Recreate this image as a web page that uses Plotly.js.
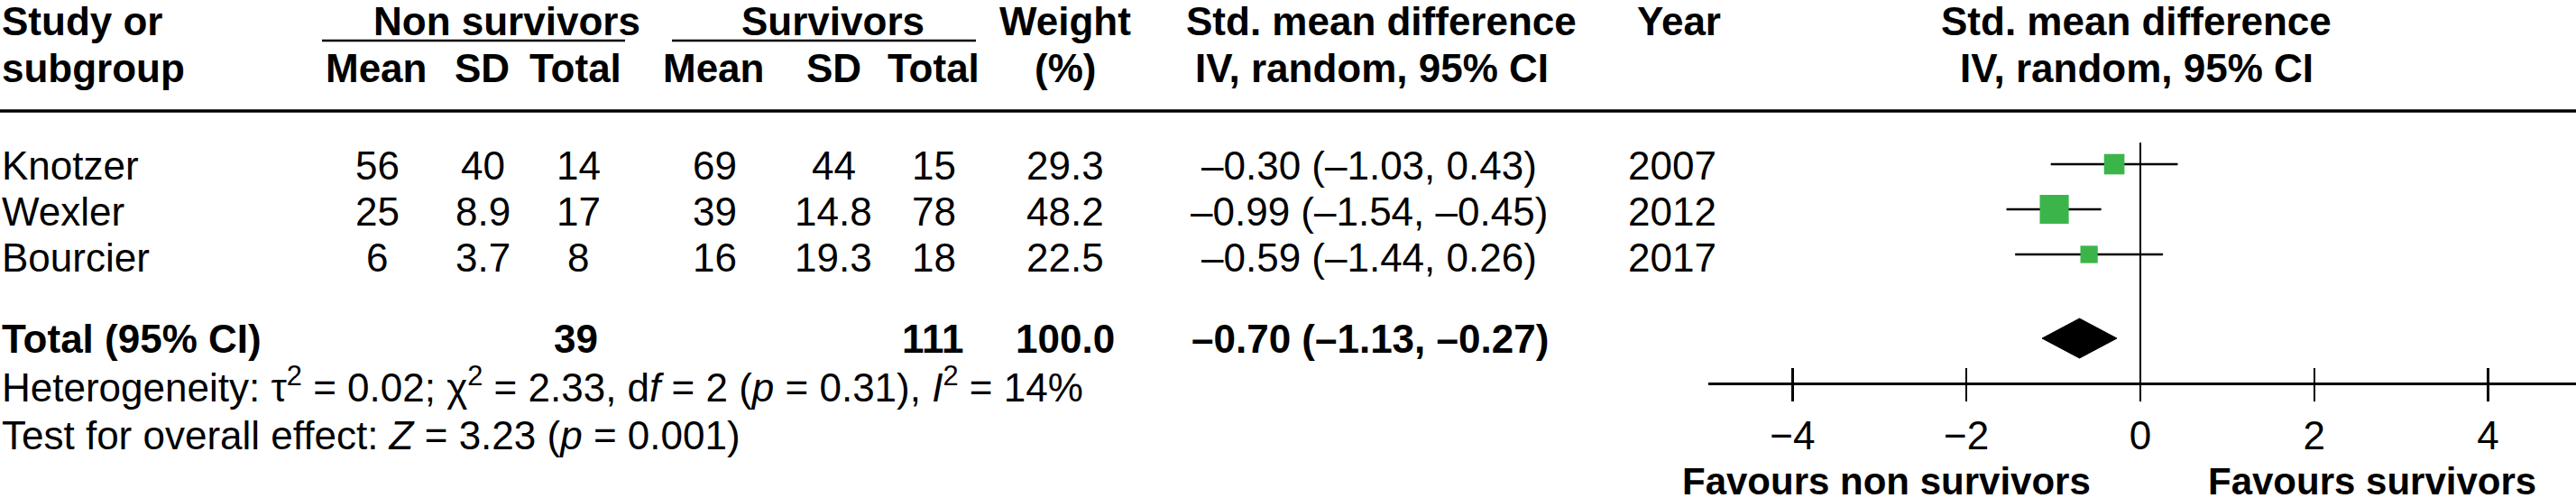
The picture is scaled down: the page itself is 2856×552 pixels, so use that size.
<!DOCTYPE html>
<html>
<head>
<meta charset="utf-8">
<script src="https://cdn.plot.ly/plotly-3.0.1.min.js"></script>
<style>html,body{margin:0;padding:0;background:#fff;}#chart{width:2856px;height:552px;}</style>
</head>
<body>
<div id="chart"></div>
<script>
// ---------------- data ----------------
const studies   = ['Knotzer', 'Wexler', 'Bourcier'];
const nsMean    = [56, 25, 6];
const nsSD      = [40, 8.9, 3.7];
const nsTotal   = [14, 17, 8];
const sMean     = [69, 39, 16];
const sSD       = [44, 14.8, 19.3];
const sTotal    = [15, 78, 18];
const weights   = [29.3, 48.2, 22.5];
const smd       = [-0.30, -0.99, -0.59];
const ciLow     = [-1.03, -1.54, -1.44];
const ciHigh    = [0.43, -0.45, 0.26];
const years     = [2007, 2012, 2017];
const totalNS   = 39;
const totalS    = 111;
const totalW    = 100.0;
const pooled    = [-0.70, -1.13, -0.27];   // estimate, low, high
const hetStats  = {tau2: '0.02', chi2: '2.33', df: '2', p: '0.31', I2: '14'};
const effStats  = {Z: '3.23', p: '0.001'};
const tickVals  = [-4, -2, 0, 2, 4];
const favours   = ['Favours non survivors', 'Favours survivors'];

// ---------------- layout constants ----------------
const W = 2856, H = 552;
const FONT = '"Liberation Sans", Arial, Helvetica, sans-serif';
const FS = 44, FS_FAV = 42;
const TEXT_ROW0 = 184, TEXT_PITCH = 50.5;  // text rows (pixels)
const ROW0 = 182, PITCH = 50;              // forest rows (pixels)
const TOTAL_PX = 375, HET_PX = 426, TEST_PX = 482;
const AXIS_PX = 424, PLOT_TOP_PX = 158;
const X_LEFT_PX = 1894, ZERO_PX = 2373, UNIT_PX = 96.4;
const GREEN = '#3bb54a';

const px = x => x / W;
const py = y => 1 - y / H;
const textRowPx = i => TEXT_ROW0 + TEXT_PITCH * i;
const pxToRow = p => (p - ROW0) / PITCH;
const dash = s => s.replace(/-/g, '\u2013');
const f2 = v => dash(v.toFixed(2));

const ann = [];
function txt(text, x, y, opt) {
  opt = opt || {};
  ann.push({
    text: text, xref: 'paper', yref: 'paper', x: px(x), y: py(y),
    xanchor: opt.anchor || 'center', yanchor: 'middle', showarrow: false,
    font: {family: FONT, size: opt.size || FS, color: '#000', weight: opt.bold ? 'bold' : 'normal'}
  });
}

// header
const H1 = 24, H2 = 75;
txt('Study or', 0, H1, {anchor: 'left', bold: true});
txt('subgroup', 0, H2, {anchor: 'left', bold: true});
txt('Non survivors', 562, H1, {bold: true});
txt('Survivors', 923, H1, {bold: true});
txt('Weight', 1181, H1, {bold: true});
txt('(%)', 1181, H2, {bold: true});
txt('Std. mean difference', 1531, H1, {bold: true});
txt('IV, random, 95% CI', 1521, H2, {bold: true});
txt('Year', 1861, H1, {bold: true});
txt('Std. mean difference', 2368, H1, {bold: true});
txt('IV, random, 95% CI', 2369, H2, {bold: true});
const subHead = [['Mean', 417], ['SD', 534], ['Total', 638], ['Mean', 791], ['SD', 924], ['Total', 1035]];
subHead.forEach(s => txt(s[0], s[1], H2, {bold: true}));

// study rows
const colX = {nsMean: 418, nsSD: 535, nsTotal: 641, sMean: 792, sSD: 924, sTotal: 1035, w: 1181, ci: 1518, year: 1854};
studies.forEach((name, i) => {
  const y = textRowPx(i);
  txt(name, 0, y, {anchor: 'left'});
  txt(String(nsMean[i]), colX.nsMean, y);
  txt(String(nsSD[i]), colX.nsSD, y);
  txt(String(nsTotal[i]), colX.nsTotal, y);
  txt(String(sMean[i]), colX.sMean, y);
  txt(String(sSD[i]), colX.sSD, y);
  txt(String(sTotal[i]), colX.sTotal, y);
  txt(weights[i].toFixed(1), colX.w, y);
  txt(f2(smd[i]) + ' (' + f2(ciLow[i]) + ', ' + f2(ciHigh[i]) + ')', colX.ci, y);
  txt(String(years[i]), colX.year, y);
});

// total row
txt('Total (95% CI)', 0, TOTAL_PX, {anchor: 'left', bold: true});
txt(String(totalNS), 638, TOTAL_PX, {bold: true});
txt(String(totalS), 1034, TOTAL_PX, {bold: true});
txt(totalW.toFixed(1), 1181, TOTAL_PX, {bold: true});
txt(f2(pooled[0]) + ' (' + f2(pooled[1]) + ', ' + f2(pooled[2]) + ')', 1519, TOTAL_PX, {bold: true});
txt('Heterogeneity: \u03c4<sup>2</sup> = ' + hetStats.tau2 + '; \u03c7<sup>2</sup> = ' + hetStats.chi2 +
    ', d<i>f</i> = ' + hetStats.df + ' (<i>p</i> = ' + hetStats.p + '), <i>I</i><sup>2</sup> = ' + hetStats.I2 + '%',
    0, HET_PX, {anchor: 'left'});
txt('Test for overall effect: <i>Z</i> = ' + effStats.Z + ' (<i>p</i> = ' + effStats.p + ')', 0, TEST_PX, {anchor: 'left'});

// favours labels
txt(favours[0], 2091, 533, {bold: true, size: FS_FAV});
txt(favours[1], 2630, 533, {bold: true, size: FS_FAV});

// header rules
const shapes = [
  {type: 'line', xref: 'paper', yref: 'paper', x0: px(357), x1: px(693), y0: py(45), y1: py(45), line: {color: '#000', width: 2.5}},
  {type: 'line', xref: 'paper', yref: 'paper', x0: px(745), x1: px(1082), y0: py(45), y1: py(45), line: {color: '#000', width: 2.5}},
  {type: 'line', xref: 'paper', yref: 'paper', x0: 0, x1: 1, y0: py(123), y1: py(123), line: {color: '#000', width: 3.5}}
];

// ---------------- traces ----------------
const ciX = [], ciY = [];
studies.forEach((s, i) => { ciX.push(ciLow[i], ciHigh[i], null); ciY.push(i, i, null); });
const ciTrace = {type: 'scatter', mode: 'lines', x: ciX, y: ciY, xaxis: 'x', yaxis: 'y',
  line: {color: '#000', width: 2.6}, hoverinfo: 'skip'};
const ptTrace = {type: 'scatter', mode: 'markers', x: smd, y: studies.map((s, i) => i), xaxis: 'x', yaxis: 'y',
  marker: {symbol: 'square', color: GREEN, opacity: 1, size: weights.map(w => 8 + 0.5 * w), line: {width: 0}},
  hoverinfo: 'skip'};
const T = pxToRow(TOTAL_PX), dh = 22 / PITCH;
const diamond = {type: 'scatter', mode: 'lines', xaxis: 'x2', yaxis: 'y',
  x: [pooled[1], pooled[0], pooled[2], pooled[0], pooled[1]],
  y: [T, T - dh, T, T + dh, T], fill: 'toself', fillcolor: '#000', line: {color: '#000', width: 1}, hoverinfo: 'skip'};

const xr = [(X_LEFT_PX - ZERO_PX) / UNIT_PX, (W - ZERO_PX) / UNIT_PX];
const layout = {
  width: W, height: H, margin: {l: 0, r: 0, t: 0, b: 0},
  paper_bgcolor: '#fff', plot_bgcolor: 'rgba(0,0,0,0)', showlegend: false,
  font: {family: FONT, size: FS, color: '#000'},
  xaxis: {domain: [px(X_LEFT_PX), 1], range: xr, anchor: 'y', showgrid: false,
    zeroline: true, zerolinecolor: '#000', zerolinewidth: 2.4,
    showline: true, linecolor: '#000', linewidth: 3,
    tickmode: 'array', tickvals: tickVals, ticks: 'outside', ticklen: 18, tickwidth: 2.4, tickcolor: '#000',
    ticklabelstandoff: 0, tickfont: {family: FONT, size: FS, color: '#000'}, fixedrange: true},
  xaxis2: {overlaying: 'x', anchor: 'y', side: 'bottom', range: xr, showgrid: false, zeroline: false, showline: false,
    tickmode: 'array', tickvals: tickVals, ticks: 'inside', ticklen: 16, tickwidth: 2.4, tickcolor: '#000',
    showticklabels: false, fixedrange: true},
  yaxis: {domain: [py(AXIS_PX), py(PLOT_TOP_PX)], range: [pxToRow(AXIS_PX), pxToRow(PLOT_TOP_PX)],
    showgrid: false, zeroline: false, showline: false, showticklabels: false, ticks: '', fixedrange: true},
  annotations: ann, shapes: shapes
};

Plotly.newPlot('chart', [ciTrace, diamond, ptTrace], layout, {staticPlot: true, displayModeBar: false});
</script>
</body>
</html>
